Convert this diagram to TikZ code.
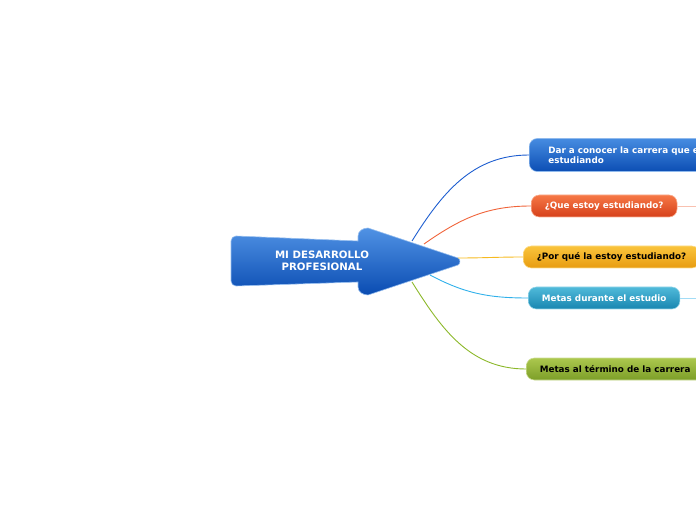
\documentclass[tikz,border=0pt]{standalone}
\usepackage{fontspec}
\setsansfont{DejaVu Sans}
\usepackage{tikz}
\usetikzlibrary{positioning}
\usepackage{xcolor}
\definecolor{rootlight}{RGB}{80, 146, 228}
\definecolor{rootdark}{RGB}{10, 76, 178}
\definecolor{bluelight}{RGB}{70, 140, 225}
\definecolor{bluedark}{RGB}{12, 78, 180}
\definecolor{redlight}{RGB}{246, 120, 70}
\definecolor{reddark}{RGB}{214, 64, 26}
\definecolor{yellowlight}{RGB}{250, 196, 60}
\definecolor{yellowdark}{RGB}{232, 156, 16}
\definecolor{teallight}{RGB}{80, 186, 218}
\definecolor{tealdark}{RGB}{24, 134, 176}
\definecolor{greenlight}{RGB}{172, 200, 78}
\definecolor{greendark}{RGB}{124, 158, 40}
\definecolor{lineblue}{RGB}{30, 94, 208}
\definecolor{linered}{RGB}{240, 100, 58}
\definecolor{lineyellow}{RGB}{246, 186, 32}
\definecolor{linecyan}{RGB}{48, 176, 234}
\definecolor{linegreen}{RGB}{140, 184, 42}

\begin{document}
\begin{tikzpicture}[x=1pt, y=1pt,
  branch/.style={rounded corners=8pt, minimum height=22pt, inner xsep=13.5pt, inner ysep=3pt,
    anchor=west, align=left, font=\sffamily\bfseries\fontsize{8.8}{10}\selectfont, line width=0.6pt},
  link/.style={line width=0.9pt}]
\useasboundingbox (0,0) rectangle (696,520);
\clip (0,0) rectangle (696,520);

% central arrow
\path[top color=rootlight, bottom color=rootdark, draw=rootlight!60!white, line width=0.6pt]
  (236,284) -- (358,279) -- (358,284) to[out=90, in=180] (368,292) -- (458,262)
  to[out=-20, in=20] (458,255) -- (368,225) to[out=180, in=-90] (358,233) -- (358,238)
  -- (236,234) to[out=180, in=-90] (231,239) -- (231,279) to[out=90, in=180] cycle;
\node[text=white, align=center, font=\sffamily\bfseries\fontsize{10.2}{12}\selectfont] (root) at (322,259)
  {MI DESARROLLO\\PROFESIONAL};
\coordinate (root-a) at (412,279);
\coordinate (root-b) at (424,276);
\coordinate (root-c) at (458,262);
\coordinate (root-d) at (430,245);
\coordinate (root-e) at (412,238);

% branches
\node[branch, top color=bluelight, bottom color=bluedark, draw=bluelight!60!white, text=white, inner xsep=19pt, minimum height=33pt] (dar) at (529,365)
  {Dar a conocer la carrera que estoy\\estudiando};
\node[branch, top color=redlight, bottom color=reddark, draw=redlight!60!white, text=white] (que) at (531,314)
  {¿Que estoy estudiando?};
\node[branch, top color=yellowlight, bottom color=yellowdark, draw=yellowlight!60!white, text=black] (por) at (523,263)
  {¿Por qué la estoy estudiando?};
\node[branch, top color=teallight, bottom color=tealdark, draw=teallight!60!white, text=white] (dur) at (528,222)
  {Metas durante el estudio};
\node[branch, top color=greenlight, bottom color=greendark, draw=greenlight!60!white, text=black] (fin) at (526,151)
  {Metas al término de la carrera};
\coordinate (que-out) at (700,314);
\coordinate (dur-out) at (700,222);

% connectors
\draw[link, lineblue] (root-a) to[out=58, in=180] (dar.west);
\draw[link, linered] (root-b) to[out=35, in=180] (que.west);
\draw[link, lineyellow] (root-c) to[out=0, in=180] (por.west);
\draw[link, linecyan] (root-d) to[out=-28, in=180] (dur.west);
\draw[link, linegreen] (root-e) to[out=-58, in=180] (fin.west);
\draw[link, linered!40!white] (que.east) -- (que-out);
\draw[link, linecyan!45!white] (dur.east) -- (dur-out);
\end{tikzpicture}
\end{document}
